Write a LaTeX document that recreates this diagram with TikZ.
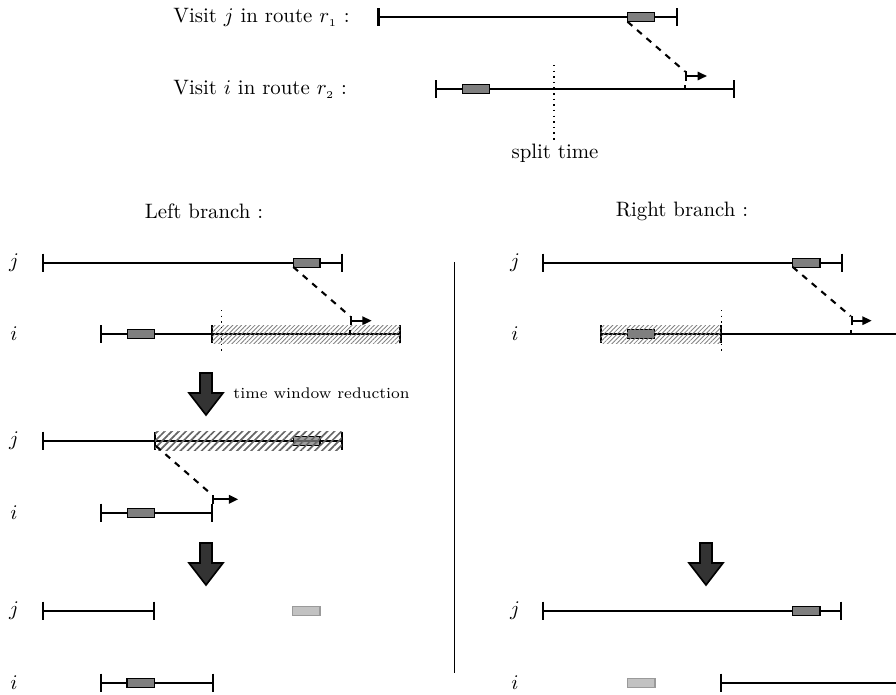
\documentclass[tikz,border=0pt]{standalone}
\usetikzlibrary{arrows.meta,patterns.meta}
\definecolor{boxgray}{HTML}{7F7F7F}
\definecolor{lightbox}{HTML}{C2C2C2}
\definecolor{lightboxborder}{HTML}{9A9A9A}
\definecolor{bigarrow}{HTML}{333333}
\newcommand\TLine[3]{%
  \draw[tl] (#1,#3) -- (#2,#3);
  \draw[tl] (#1,#3-9) -- (#1,#3+9);
  \draw[tl] (#2,#3-9) -- (#2,#3+9);}
\newcommand\TTick[2]{\draw[tl] (#1,#2-9) -- (#1,#2+9);}
\newcommand\VBox[3]{\draw[vbox] (#1,#3-4.5) rectangle (#2,#3+4.5);}
\newcommand\LBox[3]{\draw[lbox] (#1,#3-4.5) rectangle (#2,#3+4.5);}
\newcommand\BigArrow[3]{%
  \draw[fill=bigarrow,line width=0.8pt,line join=miter]
    (#1-6,#2) -- (#1+6,#2) -- (#1+6,#2+20) -- (#1+17,#2+20) -- (#1,#3)
    -- (#1-17,#2+20) -- (#1-6,#2+20) -- cycle;}
\begin{document}
\begin{tikzpicture}[x=0.48pt,y=-0.48pt,
  tl/.style={line width=1pt},
  vbox/.style={fill=boxgray,draw=black,line width=0.6pt},
  lbox/.style={fill=lightbox,draw=lightboxborder,line width=0.6pt},
  link/.style={dashed,line width=1pt},
  push/.style={line width=1pt,{Bar[width=4.6pt]}-{Triangle[length=4.5pt,width=4pt]}},
  split/.style={dotted,line width=0.7pt},
  hatchA/.style={pattern={Lines[angle=45,distance=1.5pt,line width=0.4pt]},pattern color=gray},
  hatchB/.style={pattern={Lines[angle=45,distance=2.4pt,line width=0.8pt]},pattern color=black!60},
  lbl/.style={inner sep=0pt}]
\useasboundingbox (0,0) rectangle (896,695);

% ---------- top ----------
\node[lbl,anchor=base west] (tj) at (173,23) {Visit $j$ in route $r_{\scriptscriptstyle 1}$ :};
\node[lbl,anchor=base west] (ti) at (173,95) {Visit $i$ in route $r_{\scriptscriptstyle 2}$ :};
\TLine{378.5}{677}{17.3}
\VBox{627.6}{654.4}{17.3}
\TLine{436.3}{734.4}{89.3}
\VBox{462.7}{489.5}{89.3}
\coordinate (s0) at (627.6,21.8);
\coordinate (a0) at (685,76);
\draw[link] (s0) -- ([yshift=4.5*0.48pt]a0);
\draw[push] (a0) -- ++(22,0);
\draw[line width=0.8pt] (685,85.5) -- (685,89.3);
\draw[split] (554,65) -- (554,141.7);
\node[lbl] (st) at (555,153) {split time};

% ---------- branch titles ----------
\node[lbl] (lb) at (204,211) {Left branch :};
\node[lbl] (rb) at (682,211) {Right branch :};
\draw[line width=0.5pt] (454.3,262) -- (454.3,673);

% ---------- left branch ----------
\node[lbl] (l1) at (14,263) {$j$};
\TLine{43.3}{341.7}{262.7}
\VBox{293.3}{320}{262.7}
\node[lbl] (l2) at (14,334) {$i$};
\TLine{101}{400}{334}
\TTick{212.3}{334}
\VBox{127.7}{154.3}{334}
\fill[hatchA] (212.3,325) rectangle (400,343.3);
\draw[split] (221.7,310) -- (221.7,355);
\coordinate (s1) at (293.3,267);
\coordinate (a1) at (350,320.7);
\draw[link] (s1) -- ([yshift=4.5*0.48pt]a1);
\draw[push] (a1) -- ++(21.7,0);
\draw[line width=0.8pt] (350,330) -- (350,334);

\BigArrow{206}{373}{415}
\node[lbl,anchor=west,font=\fontsize{7.4}{9}\selectfont] (twr) at (233,393) {time window reduction};

\node[lbl] (l3) at (14,441) {$j$};
\TLine{43.3}{341.7}{440.7}
\TTick{155}{440.7}
\draw[vbox,fill opacity=0.75] (293.3,436.7) rectangle (320,445.7);
\fill[hatchB] (155,431.7) rectangle (341.7,450);
\node[lbl] (l4) at (14,513) {$i$};
\TLine{101}{212}{512.7}
\VBox{127.7}{154.3}{512.7}
\coordinate (s3) at (156,446);
\coordinate (a3) at (212,499.3);
\draw[link] (s3) -- ([yshift=4.5*0.48pt]a3);
\draw[push] (a3) -- ++(26.3,0);

\BigArrow{206}{543}{585}
\node[lbl] (l5) at (14,611) {$j$};
\TLine{42.9}{154.3}{610.7}
\LBox{292.6}{320}{610.7}
\node[lbl] (l6) at (14,683) {$i$};
\TLine{101.1}{212.6}{682.7}
\VBox{126.9}{154.3}{682.7}

% ---------- right branch ----------
\node[lbl] (r1) at (515,263) {$j$};
\TLine{543.3}{841.7}{262.7}
\VBox{792.7}{820}{262.7}
\node[lbl] (r2) at (515,334) {$i$};
\TLine{600.7}{899.7}{334}
\TTick{720.7}{334}
\VBox{627.7}{654.3}{334}
\fill[hatchA] (600.7,325) rectangle (720.7,343.3);
\draw[split] (721.7,310) -- (721.7,355);
\coordinate (s4) at (792.7,267);
\coordinate (a4) at (850.7,320.7);
\draw[link] (s4) -- ([yshift=4.5*0.48pt]a4);
\draw[push] (a4) -- ++(21,0);
\draw[line width=0.8pt] (850.7,330) -- (850.7,334);

\BigArrow{706}{543}{585}
\node[lbl] (r5) at (515,611) {$j$};
\TLine{542.9}{841.1}{610.7}
\VBox{792.6}{820}{610.7}
\node[lbl] (r6) at (515,683) {$i$};
\TLine{721.1}{1020}{682.7}
\LBox{627.4}{654.9}{682.7}
\end{tikzpicture}
\end{document}
